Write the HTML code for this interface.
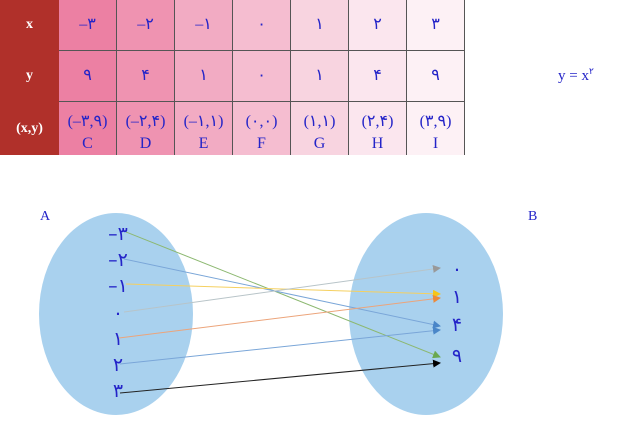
<!DOCTYPE html>
<html><head><meta charset="utf-8"><style>
body{margin:0;width:623px;height:421px;background:#fff;overflow:hidden;position:relative;font-family:"Liberation Serif","DejaVu Sans",serif}
table{position:absolute;left:0;top:0;border-collapse:collapse}
td{width:57px;height:50px;border:1px solid #555;text-align:center;color:#2424c8;font-size:16px;padding:0;line-height:18px}
td.h{background:#b0302a;color:#fff;font-weight:bold;border-color:#b0302a;font-size:14px}
.c1{background:#ec80a3}.c2{background:#ef93b1}.c3{background:#f2abc3}.c4{background:#f5bdd0}.c5{background:#f8d4e0}.c6{background:#fbe6ee}.c7{background:#fdf1f5}
tr:first-child td{border-top:none}
tr:last-child td{border-bottom:none;height:51px;vertical-align:top;padding-top:9px;line-height:22px;height:42px}
</style></head><body>
<table>
<tr><td class="h">x</td><td class="c1">–۳</td><td class="c2">–۲</td><td class="c3">–۱</td><td class="c4">۰</td><td class="c5">۱</td><td class="c6">۲</td><td class="c7">۳</td></tr>
<tr><td class="h">y</td><td class="c1">۹</td><td class="c2">۴</td><td class="c3">۱</td><td class="c4">۰</td><td class="c5">۱</td><td class="c6">۴</td><td class="c7">۹</td></tr>
<tr><td class="h" style="vertical-align:middle;padding-top:0">(x,y)</td><td class="c1">(–۳,۹)<br>C</td><td class="c2">(–۲,۴)<br>D</td><td class="c3">(–۱,۱)<br>E</td><td class="c4">(۰,۰)<br>F</td><td class="c5">(۱,۱)<br>G</td><td class="c6">(۲,۴)<br>H</td><td class="c7">(۳,۹)<br>I</td></tr>
</table>
<div style="position:absolute;left:558px;top:66px;color:#2424c8;font-size:15px">y = x<sup style="font-size:9px">۲</sup></div>
<svg width="623" height="421" style="position:absolute;left:0;top:0">
<defs>
<marker id="g" markerWidth="8" markerHeight="8" refX="7" refY="4" orient="auto" markerUnits="userSpaceOnUse"><path d="M0,0L8,4L0,8z" fill="#6aa84f"/></marker>
<marker id="b" markerWidth="8" markerHeight="8" refX="7" refY="4" orient="auto" markerUnits="userSpaceOnUse"><path d="M0,0L8,4L0,8z" fill="#4a86c8"/></marker>
<marker id="y" markerWidth="8" markerHeight="8" refX="7" refY="4" orient="auto" markerUnits="userSpaceOnUse"><path d="M0,0L8,4L0,8z" fill="#f5c518"/></marker>
<marker id="gr" markerWidth="8" markerHeight="8" refX="7" refY="4" orient="auto" markerUnits="userSpaceOnUse"><path d="M0,0L8,4L0,8z" fill="#999"/></marker>
<marker id="o" markerWidth="8" markerHeight="8" refX="7" refY="4" orient="auto" markerUnits="userSpaceOnUse"><path d="M0,0L8,4L0,8z" fill="#ec8a3a"/></marker>
<marker id="k" markerWidth="8" markerHeight="8" refX="7" refY="4" orient="auto" markerUnits="userSpaceOnUse"><path d="M0,0L8,4L0,8z" fill="#000"/></marker>
</defs>
<ellipse cx="116" cy="314" rx="77" ry="101" fill="#a9d1ee"/>
<ellipse cx="426" cy="314" rx="77" ry="101" fill="#a9d1ee"/>
<g stroke-width="1" fill="none">
<line x1="126" y1="232" x2="440" y2="357" stroke="#8cb870" marker-end="url(#g)"/>
<line x1="124" y1="259" x2="440" y2="326" stroke="#7aa6d8" marker-end="url(#b)"/>
<line x1="126" y1="284" x2="440" y2="294" stroke="#f5d060" marker-end="url(#y)"/>
<line x1="124" y1="312" x2="440" y2="268" stroke="#b8c4c8" marker-end="url(#gr)"/>
<line x1="119" y1="338" x2="440" y2="298" stroke="#eca47a" marker-end="url(#o)"/>
<line x1="120" y1="364" x2="440" y2="330" stroke="#7aa6d8" marker-end="url(#b)"/>
<line x1="120" y1="393" x2="440" y2="363" stroke="#222" marker-end="url(#k)"/>
</g>
<g fill="#2424c8" font-family="DejaVu Sans,sans-serif" font-size="19" text-anchor="middle">
<text x="118" y="240">–۳</text><text x="118" y="266">–۲</text><text x="118" y="292">–۱</text>
<text x="118" y="319">۰</text><text x="118" y="345">۱</text><text x="118" y="371">۲</text><text x="118" y="397">۳</text>
<text x="457" y="275">۰</text><text x="457" y="303">۱</text><text x="457" y="331">۴</text><text x="457" y="362">۹</text>
</g>
<g fill="#2424c8" font-family="Liberation Serif,serif" font-size="14">
<text x="40" y="220">A</text><text x="528" y="220">B</text>
</g>
</svg>
</body></html>
